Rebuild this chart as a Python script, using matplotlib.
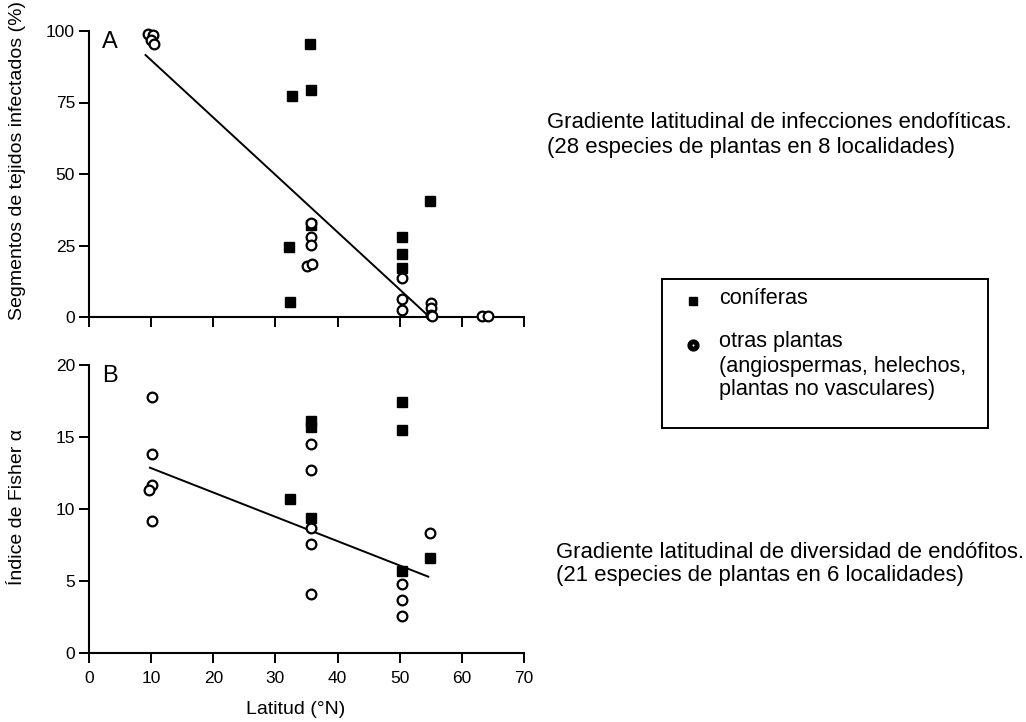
import matplotlib
matplotlib.use("Agg")
import matplotlib.pyplot as plt
from matplotlib.patches import Rectangle

plt.rcParams['font.family'] = ['Liberation Sans', 'DejaVu Sans']

# ---- Panel A: infected tissue segments (%) vs latitude ----
lat_a_conif = [32.3, 32.7, 35.6, 35.8, 35.7, 32.2, 54.8, 50.4, 50.4, 50.4]
inf_a_conif = [5.3, 77.4, 95.3, 79.4, 32.3, 24.6, 40.5, 27.8, 21.9, 17.2]

lat_a_other = [9.5, 10.3, 10.0, 10.4, 35.7, 35.8, 35.8, 35.0, 35.9,
               50.4, 50.4, 50.4, 55.0, 55.0, 55.0, 55.2, 63.3, 64.2]
inf_a_other = [99.0, 98.5, 97.0, 95.3, 32.9, 28.0, 25.3, 17.8, 18.4,
               13.7, 6.2, 2.3, 5.0, 3.0, 0.6, 0.2, 0.4, 0.4]

fit_a_lat = [9.1, 54.5]
fit_a_val = [91.6, 0.6]

# ---- Panel B: Fisher's alpha vs latitude ----
lat_b_conif = [50.4, 50.4, 35.8, 35.8, 32.3, 35.8, 50.4, 54.8]
alpha_b_conif = [17.4, 15.5, 16.1, 15.7, 10.7, 9.4, 5.7, 6.6]

lat_b_other = [10.2, 10.2, 10.2, 9.6, 10.2, 35.7, 35.7, 35.7, 35.7, 35.7,
               50.4, 50.4, 50.4, 54.8]
alpha_b_other = [17.8, 13.8, 11.7, 11.3, 9.2, 14.5, 12.7, 8.7, 7.6, 4.1,
                 4.8, 3.7, 2.6, 8.3]

fit_b_lat = [9.8, 54.6]
fit_b_val = [12.87, 5.3]

x_ticks = [0, 10, 20, 30, 40, 50, 60, 70]
ya_ticks = [0, 25, 50, 75, 100]
yb_ticks = [0, 5, 10, 15, 20]

W, H = 1026, 722
fig = plt.figure(figsize=(W / 100, H / 100), dpi=100)


def fx(px):
    return px / W


def fy(py):
    return 1 - py / H


left, right = 89, 524
ax_a = fig.add_axes([fx(left), fy(317), fx(right - left), (317 - 31) / H])
ax_b = fig.add_axes([fx(left), fy(653), fx(right - left), (653 - 365) / H])

sq_kw = dict(ls='none', marker='s', ms=7.2, mfc='black', mec='black',
             clip_on=False, zorder=3)
ci_kw = dict(ls='none', marker='o', ms=7.0, mfc='white', mec='black',
             mew=1.6, clip_on=False, zorder=4)

for ax, lc, vc, lo, vo, fl, fv, yt in [
    (ax_a, lat_a_conif, inf_a_conif, lat_a_other, inf_a_other,
     fit_a_lat, fit_a_val, ya_ticks),
    (ax_b, lat_b_conif, alpha_b_conif, lat_b_other, alpha_b_other,
     fit_b_lat, fit_b_val, yb_ticks),
]:
    ax.plot(fl, fv, color='black', lw=1.4, zorder=2)
    ax.plot(lc, vc, **sq_kw)
    ax.plot(lo, vo, **ci_kw)
    ax.set_xlim(0, 70)
    ax.set_ylim(yt[0], yt[-1])
    ax.set_xticks(x_ticks)
    ax.set_yticks(yt)
    for s in ('top', 'right'):
        ax.spines[s].set_visible(False)
    for s in ('left', 'bottom'):
        ax.spines[s].set_linewidth(1.5)
    ax.tick_params(direction='out', length=7, width=1.4, labelsize=12.5,
                   pad=3)
    ax.tick_params(axis='x', pad=6)
    ax.patch.set_alpha(0)

ax_a.tick_params(axis='x', labelbottom=False)

ax_a.text(0.03, 0.962, 'A', transform=ax_a.transAxes, fontsize=17,
          ha='left', va='center')
ax_b.text(0.03, 0.962, 'B', transform=ax_b.transAxes, fontsize=17,
          ha='left', va='center')

fig.text(fx(18), fy(160), 'Segmentos de tejidos infectados (%)', rotation=90,
         ha='center', va='center', fontsize=14)
fig.text(fx(18), fy(507), 'Índice de Fisher α', rotation=90,
         ha='center', va='center', fontsize=14)
fig.text(fx(296), fy(710), 'Latitud (°N)', ha='center', va='center',
         fontsize=14)

# Captions on the right
fs = 15.9
fig.text(fx(547), fy(122), 'Gradiente latitudinal de infecciones endofíticas.',
         ha='left', va='center', fontsize=fs)
fig.text(fx(547), fy(147), '(28 especies de plantas en 8 localidades)',
         ha='left', va='center', fontsize=fs)
fig.text(fx(556), fy(552), 'Gradiente latitudinal de diversidad de endófitos.',
         ha='left', va='center', fontsize=fs)
fig.text(fx(556), fy(576), '(21 especies de plantas en 6 localidades)',
         ha='left', va='center', fontsize=fs)

# Legend box
box_l, box_r, box_t, box_b = 662, 988, 279, 428
fig.patches.append(Rectangle((fx(box_l), fy(box_b)), fx(box_r - box_l),
                             (box_b - box_t) / H, transform=fig.transFigure,
                             fill=False, edgecolor='black', lw=1.4))
leg = fig.add_axes([0, 0, 1, 1])
leg.set_xlim(0, W)
leg.set_ylim(H, 0)
leg.axis('off')
leg.plot([693], [301], ls='none', marker='s', ms=6.0, mfc='black', mec='black')
leg.plot([693], [345], ls='none', marker='o', ms=5.2, mfc='white',
         mec='black', mew=3.6)
fig.text(fx(719), fy(298), 'coníferas', ha='left', va='center', fontsize=15.6)
fig.text(fx(719), fy(342), 'otras plantas', ha='left', va='center',
         fontsize=15.6)
fig.text(fx(719), fy(366), '(angiospermas, helechos,', ha='left', va='center',
         fontsize=15.6)
fig.text(fx(719), fy(390), 'plantas no vasculares)', ha='left', va='center',
         fontsize=15.6)

fig.savefig('out.png', dpi=100)
